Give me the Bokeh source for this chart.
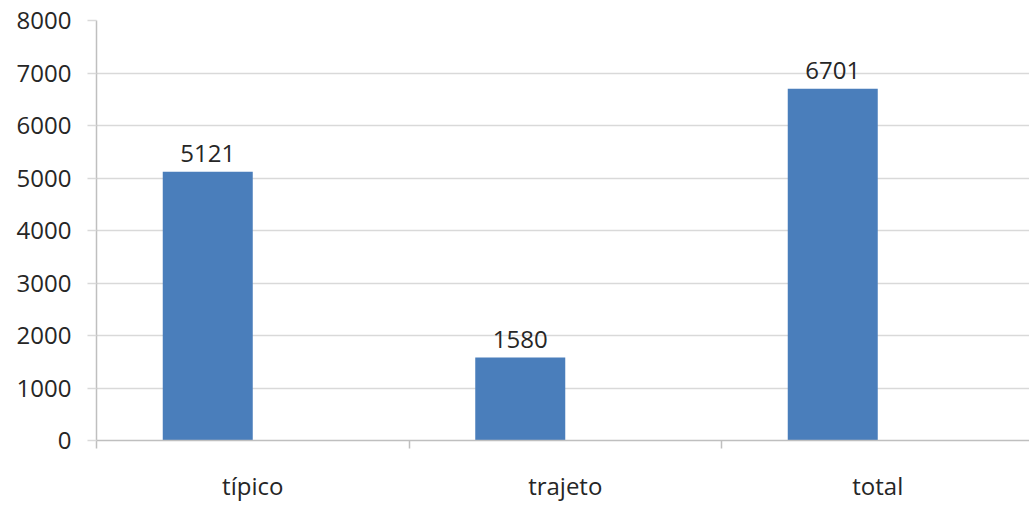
from bokeh.plotting import figure
from bokeh.models import Range1d, FixedTicker, ColumnDataSource, LabelSet
from bokeh.core.properties import value
from bokeh.embed import file_html
from bokeh.resources import INLINE

categories = ["típico", "trajeto", "total"]
values = [5121, 1580, 6701]
y_ticks = [0, 1000, 2000, 3000, 4000, 5000, 6000, 7000, 8000]

FONT = "Open Sans"
TEXT = "#262626"
GRID = "#d9d9d9"
AXIS = "#bfbfbf"
BAR = "#4a7ebb"

# numeric x positions: each category spans one unit, bar sits left of centre
centers = [i + 0.5 for i in range(len(categories))]
bar_w = 0.288
bar_x = [c - bar_w / 2 for c in centers]

src = ColumnDataSource(dict(x=bar_x, top=values, lab=[str(v) for v in values]))

p = figure(width=1029, height=505, output_backend="svg", toolbar_location=None,
           x_range=Range1d(0, 2.9856), y_range=Range1d(0, 8000),
           min_border_left=96, min_border_right=0, min_border_top=20,
           min_border_bottom=65)
p.outline_line_color = None
p.background_fill_color = "white"
p.border_fill_color = "white"

p.vbar(x="x", top="top", width=bar_w, bottom=0, source=src,
       fill_color=BAR, line_color=None)

labels = LabelSet(x="x", y="top", text="lab", source=src, text_align="center",
                  text_baseline="bottom", y_offset=10, text_font=value(FONT),
                  text_font_size="24px", text_color=TEXT)
p.add_layout(labels)

# y axis
p.yaxis.ticker = FixedTicker(ticks=y_ticks)
p.yaxis.axis_line_color = AXIS
p.yaxis.axis_line_width = 1.5
p.yaxis.major_tick_line_color = GRID
p.yaxis.major_tick_line_width = 1.5
p.yaxis.major_tick_out = 9
p.yaxis.major_tick_in = 0
p.yaxis.minor_tick_line_color = None
p.yaxis.major_label_standoff = 16
p.yaxis.major_label_text_font = FONT
p.yaxis.major_label_text_font_size = "24px"
p.yaxis.major_label_text_color = TEXT

p.ygrid.ticker = FixedTicker(ticks=y_ticks)
p.ygrid.grid_line_color = GRID
p.ygrid.grid_line_width = 1.5
p.xgrid.grid_line_color = None

# x axis: labels at category centres, small tick marks at boundaries
p.xaxis.ticker = FixedTicker(ticks=centers, minor_ticks=[0, 1, 2, 3])
p.xaxis.major_label_overrides = {c: n for c, n in zip(centers, categories)}
p.xaxis.major_tick_line_color = None
p.xaxis.major_tick_out = 0
p.xaxis.major_tick_in = 0
p.xaxis.minor_tick_line_color = AXIS
p.xaxis.minor_tick_line_width = 1.5
p.xaxis.minor_tick_out = 8
p.xaxis.minor_tick_in = 0
p.xaxis.axis_line_color = AXIS
p.xaxis.axis_line_width = 1.5
p.xaxis.major_label_standoff = 20
p.xaxis.major_label_text_font = FONT
p.xaxis.major_label_text_font_size = "24px"
p.xaxis.major_label_text_color = TEXT

open("out.html", "w").write(file_html(p, INLINE))
